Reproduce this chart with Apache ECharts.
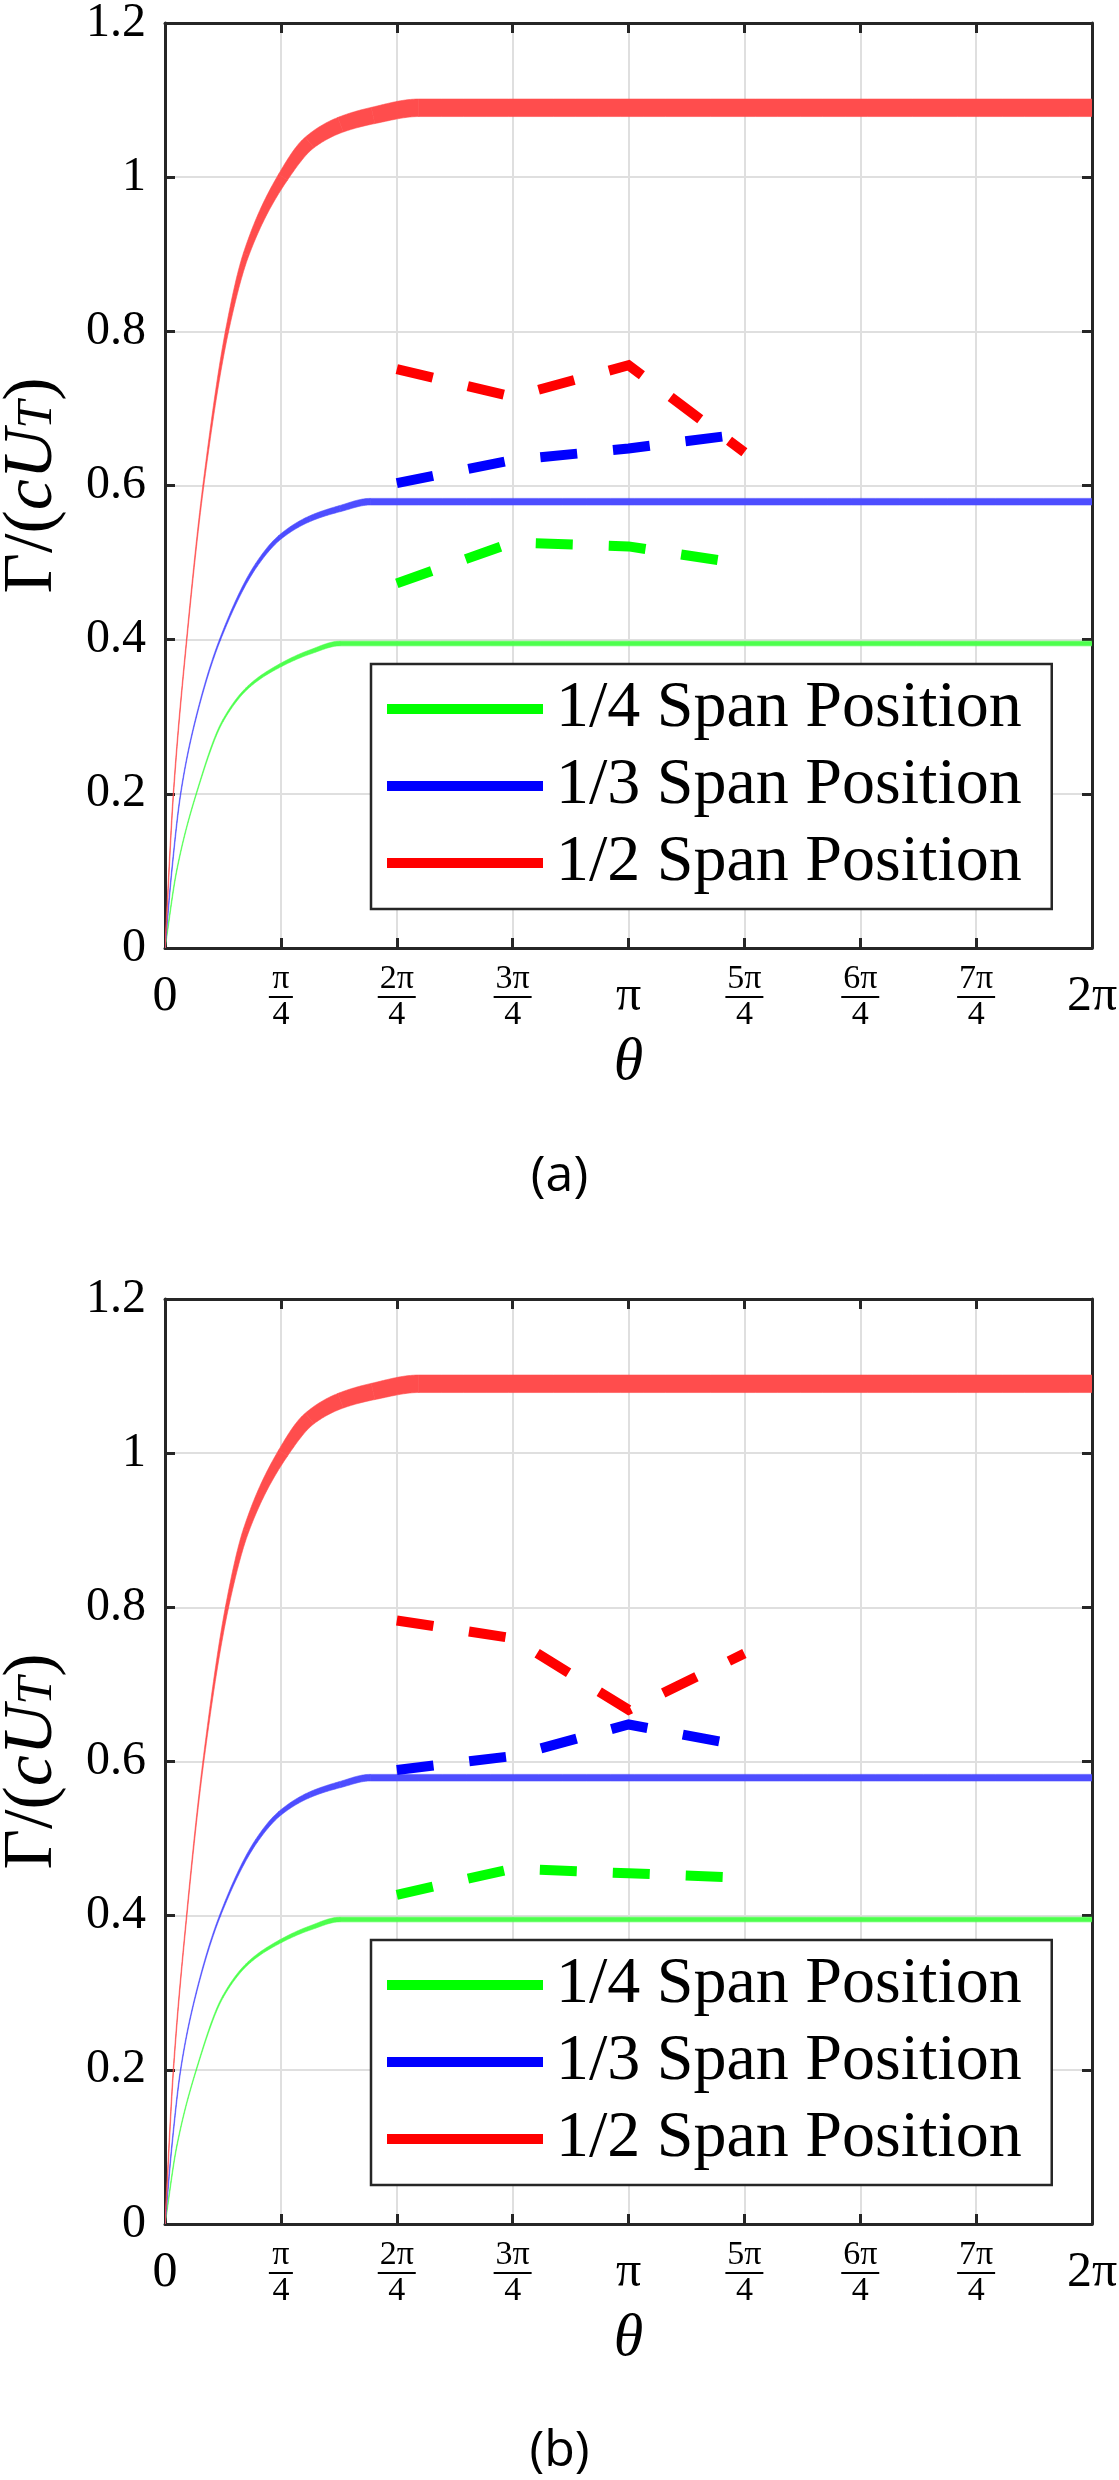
<!DOCTYPE html>
<html><head><meta charset="utf-8">
<script src="https://cdn.jsdelivr.net/npm/echarts@6/dist/echarts.min.js"></script>
<style>html,body{margin:0;padding:0;background:#fff}#c{width:1119px;height:2480px}</style>
</head><body><div id="c"></div>
<script>
// ---------- data ----------
const xTickLabels = ['0', 'π/4', '2π/4', '3π/4', 'π', '5π/4', '6π/4', '7π/4', '2π'];
const seriesNames = ['1/4 Span Position', '1/3 Span Position', '1/2 Span Position'];

// solid (growing) curves, theta in radians
const thetaQuarter = [0, 0.079, 0.212, 0.393, 0.573, 0.785, 0.983, 1.186, 6.283];
const gammaQuarter = [0, 0.10, 0.20, 0.295, 0.34, 0.367, 0.384, 0.395, 0.395];
const thetaThird = [0, 0.046, 0.106, 0.212, 0.373, 0.620, 0.780, 0.983, 1.186, 1.390, 6.283];
const gammaThird = [0, 0.10, 0.20, 0.30, 0.40, 0.497, 0.533, 0.557, 0.570, 0.579, 0.579];
const thetaHalf = [0, 0.057, 0.147, 0.260, 0.420, 0.550, 0.800, 0.980, 1.190, 1.410, 1.720, 6.283];
const gammaHalf = [0, 0.20, 0.40, 0.60, 0.80, 0.90, 1.00, 1.045, 1.068, 1.08, 1.09, 1.09];

// dashed measurements
const thetaDash = [1.571, 2.356, 3.142, 3.927];
const dashQuarterA = [0.473, 0.526, 0.521, 0.498];
const dashThirdA = [0.603, 0.633, 0.648, 0.667];
const dashHalfA = [0.751, 0.715, 0.756, 0.643];
const dashQuarterB = [0.427, 0.461, 0.455, 0.449];
const dashThirdB = [0.589, 0.607, 0.648, 0.620];
const dashHalfB = [0.783, 0.760, 0.667, 0.740];

// ---------- chart ----------
const F = '"Liberation Serif", "DejaVu Serif", serif';
const FS = '"Open Sans", "Noto Sans", sans-serif';
const AX = '#262626';
const xStep = Math.PI / 4;
const xMax = 2 * Math.PI;

function bandSeries(name, xs, ys, color, wMax, ai) {
  const n = xs.length;
  const d = [], m = [];
  for (let i = 0; i < n - 1; i++) d.push((ys[i + 1] - ys[i]) / (xs[i + 1] - xs[i]));
  m[0] = d[0]; m[n - 1] = d[n - 2];
  for (let i = 1; i < n - 1; i++) {
    if (d[i - 1] * d[i] <= 0) m[i] = 0;
    else {
      const h0 = xs[i] - xs[i - 1], h1 = xs[i + 1] - xs[i];
      const w1 = 2 * h1 + h0, w2 = h1 + 2 * h0;
      m[i] = (w1 + w2) / (w1 / d[i - 1] + w2 / d[i]);
    }
  }
  const vmax = ys[n - 1];
  const width = v => 0.6 + (wMax - 0.6) * Math.pow(Math.max(v, 0) / vmax, 6);
  return {
    type: 'custom', name: name, xAxisIndex: ai, yAxisIndex: ai, z: 3, silent: true, clip: true,
    data: xs.map((x, i) => [x, ys[i]]),
    renderItem(params, api) {
      const i = params.dataIndex;
      if (i >= n - 1) return null;
      const h = xs[i + 1] - xs[i];
      const steps = 30;
      const left = [], right = [];
      for (let k = 0; k <= steps; k++) {
        const t = k / steps, t2 = t * t, t3 = t2 * t;
        const x = xs[i] + t * h;
        const y = (2 * t3 - 3 * t2 + 1) * ys[i] + (t3 - 2 * t2 + t) * h * m[i] + (-2 * t3 + 3 * t2) * ys[i + 1] + (t3 - t2) * h * m[i + 1];
        const dy = ((6 * t2 - 6 * t) * ys[i] + (3 * t2 - 4 * t + 1) * h * m[i] + (-6 * t2 + 6 * t) * ys[i + 1] + (3 * t2 - 2 * t) * h * m[i + 1]) / h;
        const p = api.coord([x, y]);
        const q = api.coord([x + 1e-3, y + 1e-3 * dy]);
        let tx = q[0] - p[0], ty = q[1] - p[1];
        const L = Math.hypot(tx, ty) || 1; tx /= L; ty /= L;
        const w = width(y) / 2;
        left.push([p[0] - ty * w, p[1] + tx * w]);
        right.push([p[0] + ty * w, p[1] - tx * w]);
      }
      return { type: 'polygon', shape: { points: left.concat(right.reverse()) },
        style: { fill: color, stroke: color, lineWidth: 0.6 } };
    }
  };
}

function dashSeries(name, ys, color, ai) {
  return {
    type: 'line', name: name, xAxisIndex: ai, yAxisIndex: ai, z: 4, silent: true,
    data: thetaDash.map((x, i) => [x, ys[i]]),
    symbol: 'none', color: color,
    itemStyle: { color: color, borderWidth: 0 },
    lineStyle: { color: color, width: 10, type: [37, 36], cap: 'butt', join: 'miter' }
  };
}

function xLabelFmt(v) {
  const k = Math.round(v / xStep);
  const s = xTickLabels[k];
  if (s === undefined) return '';
  if (s.indexOf('/') >= 0) {
    const parts = s.split('/');
    const bar = parts[0].length > 1 ? 'bar2' : 'bar1';
    return '{n|' + parts[0] + '}\n{' + bar + '| }\n{d|' + parts[1] + '}';
  }
  return '{m|' + s + '}';
}

const tickStyle = { inside: true, length: 10, lineStyle: { color: AX, width: 3 } };
const lineStyleAx = { show: true, onZero: false, lineStyle: { color: AX, width: 3 } };
const gridLine = { show: true, lineStyle: { color: '#dfdfdf', width: 2 } };

function mainX(gi) {
  return {
    type: 'value', gridIndex: gi, min: 0, max: xMax, interval: xStep, position: 'bottom',
    axisLine: lineStyleAx, axisTick: tickStyle, splitLine: gridLine,
    axisLabel: {
      formatter: xLabelFmt, margin: 49, verticalAlign: 'middle', showMinLabel: true, showMaxLabel: true,
      fontFamily: F,
      rich: {
        m: { fontFamily: F, fontSize: 50, lineHeight: 50, color: '#000' },
        n: { fontFamily: F, fontSize: 34, lineHeight: 30, color: '#000' },
        d: { fontFamily: F, fontSize: 34, lineHeight: 30, color: '#000' },
        bar1: { width: 24, height: 2, lineHeight: 6, fontSize: 2, backgroundColor: '#000' },
        bar2: { width: 38, height: 2, lineHeight: 6, fontSize: 2, backgroundColor: '#000' }
      }
    },
    name: 'θ', nameLocation: 'middle', nameGap: 115,
    nameTextStyle: { fontFamily: F, fontSize: 60, fontStyle: 'italic', color: '#000', verticalAlign: 'middle' }
  };
}
function topX(gi) {
  return {
    type: 'value', gridIndex: gi, min: 0, max: xMax, interval: xStep, position: 'top',
    axisLine: lineStyleAx, axisTick: tickStyle, splitLine: { show: false }, axisLabel: { show: false }
  };
}
function mainY(gi) {
  return {
    type: 'value', gridIndex: gi, min: 0, max: 1.2, interval: 0.2, position: 'left',
    axisLine: lineStyleAx, axisTick: tickStyle, splitLine: gridLine,
    axisLabel: { fontFamily: F, fontSize: 48, color: '#000', margin: 19 },
    name: '{r|Γ/(}{i|cU}{s|T}{r|)}', nameLocation: 'middle', nameGap: 102, nameRotate: 90,
    nameTextStyle: {
      fontFamily: F, fontSize: 70, lineHeight: 60, color: '#000', align: 'center',
      rich: {
        r: { fontFamily: F, fontSize: 70, lineHeight: 60, color: '#000' },
        i: { fontFamily: F, fontSize: 70, lineHeight: 60, fontStyle: 'italic', color: '#000' },
        s: { fontFamily: F, fontSize: 50, lineHeight: 26, fontStyle: 'italic', color: '#000', verticalAlign: 'bottom' }
      }
    }
  };
}
function rightY(gi) {
  return {
    type: 'value', gridIndex: gi, min: 0, max: 1.2, interval: 0.2, position: 'right',
    axisLine: lineStyleAx, axisTick: tickStyle, splitLine: { show: false }, axisLabel: { show: false }
  };
}
function legendAt(top) {
  return {
    data: seriesNames, left: 371, top: top, orient: 'vertical', icon: 'rect',
    itemWidth: 156, itemHeight: 10, itemGap: 11, selectedMode: false,
    padding: [12, 30, 13, 16], backgroundColor: '#fff', borderColor: AX, borderWidth: 2.5, borderRadius: 0,
    textStyle: { fontFamily: F, fontSize: 66, lineHeight: 66, color: '#000', padding: [0, 0, 0, 8] }
  };
}

const colorsPure = ['#00ff00', '#0000ff', '#ff0000'];
const colorsSolid = ['#4dff4d', '#4d4dff', '#ff4d4d'];

const series = [];
[0, 1].forEach(function (g) {
  series.push(bandSeries('q' + g, thetaQuarter, gammaQuarter, colorsSolid[0], 4.7, g * 2));
  series.push(bandSeries('t' + g, thetaThird, gammaThird, colorsSolid[1], 6.6, g * 2));
  series.push(bandSeries('h' + g, thetaHalf, gammaHalf, colorsSolid[2], 17.5, g * 2));
});
series.push(dashSeries(seriesNames[0], dashQuarterA, colorsPure[0], 0));
series.push(dashSeries(seriesNames[1], dashThirdA, colorsPure[1], 0));
series.push(dashSeries(seriesNames[2], dashHalfA, colorsPure[2], 0));
series.push(dashSeries(seriesNames[0], dashQuarterB, colorsPure[0], 2));
series.push(dashSeries(seriesNames[1], dashThirdB, colorsPure[1], 2));
series.push(dashSeries(seriesNames[2], dashHalfB, colorsPure[2], 2));

const chart = echarts.init(document.getElementById('c'), null, { renderer: 'canvas' });
chart.setOption({
  animation: false,
  backgroundColor: '#fff',
  textStyle: { fontFamily: F },
  title: [
    { text: '(a)', left: 'center', top: 1147, padding: 0,
      textStyle: { fontFamily: FS, fontSize: 50, fontWeight: 'normal', color: '#000', lineHeight: 60 } },
    { text: '(b)', left: 'center', top: 2422, padding: 0,
      textStyle: { fontFamily: FS, fontSize: 50, fontWeight: 'normal', color: '#000', lineHeight: 60 } }
  ],
  grid: [
    { left: 165, top: 23, width: 927, height: 925, containLabel: false, outerBoundsMode: 'none' },
    { left: 165, top: 1299, width: 927, height: 925, containLabel: false, outerBoundsMode: 'none' }
  ],
  xAxis: [mainX(0), topX(0), mainX(1), topX(1)],
  yAxis: [mainY(0), rightY(0), mainY(1), rightY(1)],
  legend: [legendAt(664), legendAt(1940)],
  series: series
});
</script></body></html>
